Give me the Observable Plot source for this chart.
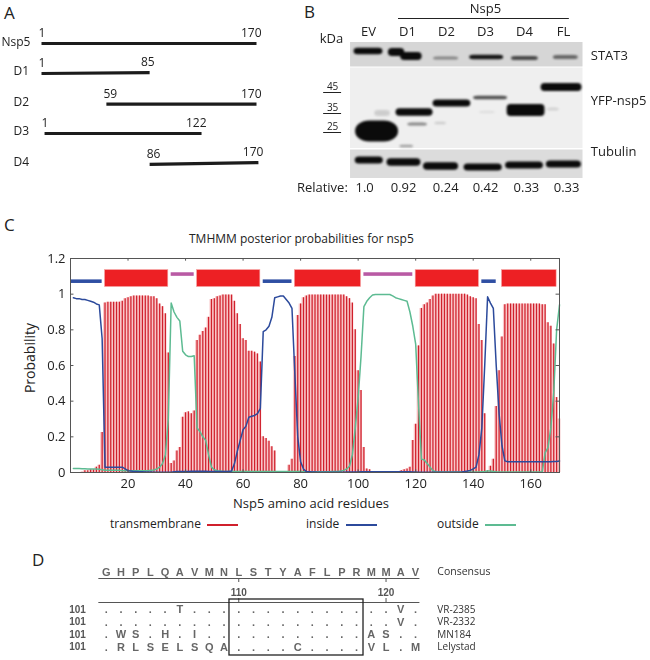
<!DOCTYPE html>
<html>
<head>
<meta charset="utf-8">
<script src="https://cdn.jsdelivr.net/npm/d3@7"></script>
<script src="https://cdn.jsdelivr.net/npm/@observablehq/plot@0.6"></script>
<style>
html,body{margin:0;padding:0;background:#fff}
#page{position:relative;width:650px;height:660px;overflow:hidden;font-family:"Open Sans",sans-serif;color:#222}
#page svg{position:absolute;overflow:visible;background:transparent;opacity:.999}
.lbl{position:absolute;font-size:12px;white-space:nowrap;line-height:14px}
.letter{position:absolute;font-size:17px;line-height:20px}
.sw{position:absolute;height:1.5px;width:31px}
</style>
</head>
<body>
<div id="page"></div>
<script>
const FONT = '"Open Sans", sans-serif';
const page = document.getElementById("page");

// ---------- Panel A ----------
const constructs = ["Nsp5","D1","D2","D3","D4"];
const startLabel = ["1","1","59","1","86"];
const endLabel   = ["170","85","170","122","170"];
const drawnStart = [1,1,52,3.4,86];
const drawnEnd   = [170,86,170,126.8,171.5];
const rowStart   = [0,1,2.02,3,4.03];
const rowEnd     = [0,0.97,2.02,3,3.97];

// ---------- Panel B ----------
const laneNames = ["EV","D1","D2","D3","D4","FL"];
const relative  = ["1.0","0.92","0.24","0.42","0.33","0.33"];
const relativeLane = [-0.1,0.9,1.98,3,4.05,5.08];
const markers   = ["45","35","25"];
const markerGelY = [92,113,132];
const stripTop  = [42,67.5,149.5];
const stripBottom = [66.5,148,178];
const stripShade = ["#d6d6d6","#efefef","#dcdcdc"];
// band: lane position, width (lanes), gel y, thickness, density
const bandLane = [0,0.72,1.1,1.99,3.03,4.01,5.06,  1.18,2.14,3.13,4.04,4.95,  0.02,0.91,1.86,2.94,4,5.01,  1.26,0.98,0.36,4.74,3.05,1.85];
const bandWide = [0.74,0.42,0.55,0.64,0.87,0.69,0.64,  0.95,0.97,0.87,0.97,1.05,  0.72,0.87,0.9,0.98,0.97,0.9,  0.5,0.35,0.4,0.3,0.4,0.3];
const bandY    = [51,52,56,58,57,58,57,  112,103,97.5,110,87,  160,162,166,167,165,164,  124,146,113,109,112,123];
const bandThick= [6.5,8,8,3,4.5,4,4,  7.5,7,3.5,12,8,  7,7.5,7.5,7,7,7,  3,2.5,6,3,2,2.5];
const bandDensity=[1,1,1,0.4,0.95,0.7,0.55,  1,1,0.7,1,1,  1,1,1,1,1,1,  0.45,0.35,0.15,0.12,0.08,0.15];
const blobLane = [0.22];
const blobWide = [1.1];
const blobY = [131];
const blobThick = [21];

// ---------- Panel C ----------
const transmembrane = [
0,0,0,.002,.01,.01,.015,.015,.03,.04,
.225,.95,.955,.955,.955,.955,.955,.96,.975,.98,
.985,.99,.99,.99,.99,.99,.99,.985,.985,.975,
.945,.93,.89,.67,.05,.065,.12,.14,.31,.335,
.34,.33,.345,.74,.77,.79,.81,.87,.97,.975,
.985,.99,.995,.995,.995,.995,.96,.89,.83,.75,
.74,.68,.68,.675,.665,.62,.2,.19,.175,.145,
.12,0,0,0,0,.04,.075,.65,.88,.945,
.98,.99,.995,.995,.995,.995,.995,.995,.995,.995,
.995,.995,.995,.995,.995,.985,.975,.95,.8,.57,
.46,.14,.02,.015,.005,.002,.002,.002,.002,.002,
.002,.002,.005,.005,.01,.015,.02,.03,.18,.27,
.71,.92,.94,.95,.97,.99,1,1,1,1,
1,1,1,1,1,1,1,.995,.985,.98,
.975,.83,.74,.33,.01,.035,.075,.37,.57,.76,
.94,.945,.945,.945,.945,.945,.945,.945,.945,.945,
.945,.945,.945,.94,.94,.84,.82,.72,.42,.3];
const inside = [
.98,.975,.975,.97,.97,.965,.96,.955,.945,.94,
.75,.03,.03,.03,.03,.03,.03,.03,.02,.01,
.008,.006,.005,.004,.004,.003,.003,.003,.002,.002,
.002,.001,.001,.001,.002,.004,.005,.005,.006,.006,
.006,.007,.007,.007,.007,.007,.007,.006,.006,.005,
.005,.005,.005,.005,.005,.008,.05,.12,.18,.24,
.26,.31,.315,.32,.33,.36,.79,.8,.82,.87,
.98,.985,.99,.99,.97,.95,.92,.55,.2,.06,
.02,.005,.004,.003,.003,.002,.002,.002,.002,.002,
.002,.002,.002,.002,.002,.003,.003,.003,.003,.003,
.004,.004,.004,.004,.004,.004,.004,.004,.004,.004,
.004,.004,.004,.004,.004,.004,.004,.004,.003,.003,
.001,.001,.001,.001,.001,.001,.001,.001,.001,.001,
.001,.001,.001,.001,.002,.003,.005,.008,.012,.02,
.03,.1,.25,.6,.985,.95,.92,.6,.33,.15,
.065,.06,.06,.06,.06,.06,.06,.06,.06,.06,
.06,.06,.06,.06,.06,.06,.06,.062,.062,.065];
const outside = [
.022,.022,.022,.021,.021,.02,.02,.02,.019,.018,
.015,.012,.012,.012,.012,.012,.012,.01,.01,.01,
.01,.01,.01,.01,.01,.01,.01,.012,.014,.02,
.03,.05,.1,.3,.95,.9,.87,.85,.68,.66,
.65,.65,.655,.25,.23,.2,.18,.1,.03,.015,
.01,.008,.006,.005,.005,.005,.005,.005,.005,.005,
.005,.005,.005,.005,.005,.005,.005,.005,.005,.005,
.005,.005,.005,.005,.005,.005,.005,.005,.005,.005,
.004,.004,.004,.004,.004,.004,.004,.004,.004,.004,
.005,.005,.005,.008,.012,.02,.035,.1,.25,.42,
.65,.93,.96,.98,.995,.998,.998,.998,.998,.998,
.998,.99,.98,.975,.97,.965,.96,.9,.82,.72,
.38,.075,.07,.05,.03,.01,.004,.003,.003,.003,
.003,.003,.003,.003,.003,.003,.003,.003,.003,.003,
.003,.003,.004,.005,.008,.008,.006,.004,.003,.003,
.003,.003,.003,.003,.003,.003,.003,.003,.003,.003,
.003,.003,.003,.003,.11,.14,.25,.45,.8,.94];
const residues = transmembrane.map((_, i) => i + 1);
const topoKind  = ["inside","tm","outside","tm","inside","tm","outside","tm","inside","tm"];
const topoStart = [0,12,35,44,67,78,102,120,143,150];
const topoEnd   = [11,34,43,66,77,101,119,142,148,169];
const probTicks = [0,0.2,0.4,0.6,0.8,1,1.2];
const residueTicks = [20,40,60,80,100,120,140,160];

// ---------- Panel D ----------
const consensus = "GHPLQAVMNLSTYAFLPRMMAV";
const strainNames = ["VR-2385","VR-2332","MN184","Lelystad"];
const strainStart = ["101","101","101","101"];
const strainSeqs = [
  ".....T..............V.",
  "....................V.",
  ".WS.H.I...........AS..",
  ".RLSELSQA....C....VL.M"
];
const rulerTicks = [110,120];

// ---------- helpers ----------
function place(svg, left, top) {
  svg.style.left = left + "px";
  svg.style.top = top + "px";
  page.appendChild(svg);
  return svg;
}
function label(cls, text, left, top, extra) {
  const d = document.createElement("div");
  d.className = cls;
  d.textContent = text;
  d.style.left = left + "px";
  d.style.top = top + "px";
  if (extra) Object.assign(d.style, extra);
  page.appendChild(d);
}
const baseStyle = {fontFamily: FONT, fontSize: "12px", background: "transparent", color: "#222"};

// Panel letters
label("letter","A",4,3);
label("letter","B",304,2);
label("letter","C",4,215);
label("letter","D",32,550);

// ---------- A ----------
const aRows = constructs.map((name,i)=>({name,sl:startLabel[i],el:endLabel[i],x1:drawnStart[i],x2:drawnEnd[i],y1:rowStart[i],y2:rowEnd[i]}));
place(Plot.plot({
  width: 290, height: 180, margin: 0, style: baseStyle,
  x: {domain:[1,170], range:[41,256], axis:null},
  y: {domain:[0,4], range:[43,163], axis:null},
  marks: [
    Plot.link(aRows,{x1:"x1",x2:"x2",y1:"y1",y2:"y2",stroke:"#1c1c1c",strokeWidth:3.2}),
    Plot.text(aRows,{x:"x1",y:"y1",text:"sl",textAnchor:"start",dx:-3,dy:-10,fill:"#222"}),
    Plot.text(aRows,{x:"x2",y:"y2",text:"el",textAnchor:"end",dx:5,dy:-10,fill:"#222"}),
    Plot.text(aRows.slice(0,1),{y:"y1",text:"name",frameAnchor:"left",dx:1,dy:-1,textAnchor:"start",fill:"#222"}),
    Plot.text(aRows.slice(1),{y:"y1",text:"name",frameAnchor:"left",dx:13,dy:-2,textAnchor:"start",fill:"#222"})
  ]
}),0,0);

// ---------- B ----------
const laneX = {domain:[0,5], range:[368,563], axis:null};
const gelY  = {domain:[0,190], range:[0,190], axis:null};
const strips = stripTop.map((t,i)=>({t,b:stripBottom[i],s:stripShade[i]}));
const lanes = laneNames.map((n,i)=>({n,i,rel:relative[i],rl:relativeLane[i]}));
const mk = markers.map((m,i)=>({m,y:markerGelY[i]}));
const bStyle = {...baseStyle, fontSize:"13px"};
place(Plot.plot({
  width:650,height:200,margin:0,style:bStyle,x:laneX,y:gelY,
  marks:[
    Plot.rect(strips,{x1:-0.46,x2:5.5,y1:"t",y2:"b",fill:"s"}),
    Plot.text(lanes,{x:"i",y:31,text:"n",fill:"#222"}),
    Plot.text(lanes,{x:"rl",y:187,text:"rel",fill:"#222"}),
    Plot.text(["kDa"],{x:-0.95,y:38,text:d=>d,fill:"#222"}),
    Plot.text(["Nsp5"],{x:3,y:8,text:d=>d,fill:"#222"}),
    Plot.ruleY([18],{x1:0.77,x2:5.15,stroke:"#222",strokeWidth:1}),
    Plot.text(["Relative:"],{x:-0.53,y:187,text:d=>d,textAnchor:"end",fill:"#222"}),
    Plot.text(["STAT3"],{x:5.7,y:55,text:d=>d,textAnchor:"start",fill:"#222"}),
    Plot.text(["YFP-nsp5"],{x:5.7,y:100,text:d=>d,textAnchor:"start",fill:"#222"}),
    Plot.text(["Tubulin"],{x:5.7,y:151,text:d=>d,textAnchor:"start",fill:"#222"}),
    Plot.text(mk,{x:-0.92,y:d=>d.y-5.5,text:"m",fontSize:10,fill:"#222"}),
    Plot.ruleY(mk,{y:"y",x1:-1.15,x2:-0.69,stroke:"#222",strokeWidth:1})
  ]
}),0,0);
const bands = bandLane.map((l,i)=>({x1:l-bandWide[i]/2,x2:l+bandWide[i]/2,y1:bandY[i]-bandThick[i]/2,y2:bandY[i]+bandThick[i]/2,d:bandDensity[i]}));
const blobs = blobLane.map((l,i)=>({x1:l-blobWide[i]/2,x2:l+blobWide[i]/2,y1:blobY[i]-blobThick[i]/2,y2:blobY[i]+blobThick[i]/2}));
const bandSvg = Plot.plot({
  width:650,height:200,margin:0,style:bStyle,x:laneX,y:gelY,
  marks:[
    Plot.rect(bands,{x1:"x1",x2:"x2",y1:"y1",y2:"y2",fill:"#0b0b0b",fillOpacity:"d",rx:4}),
    Plot.rect(blobs,{x1:"x1",x2:"x2",y1:"y1",y2:"y2",fill:"#0b0b0b",rx:14,ry:10})
  ]
});
bandSvg.style.filter = "blur(1.3px)";
place(bandSvg,0,0);

// ---------- C ----------
const cData = residues.map((r,i)=>({r,tm:transmembrane[i],ins:inside[i],out:outside[i]}));
const topo = topoKind.map((k,i)=>({k,a:topoStart[i],b:topoEnd[i]}));
place(Plot.plot({
  width:650,height:280,marginLeft:70,marginRight:91,marginTop:18,marginBottom:48,style:baseStyle,
  x:{domain:[0,170]},
  y:{domain:[0,1.2]},
  marks:[
    Plot.areaY(cData,{x:"r",y:"tm",fill:"#f9c6c8",curve:"step"}),
    Plot.ruleX(cData,{x:"r",y1:0,y2:"tm",stroke:"#d0202c",strokeWidth:1.25}),
    Plot.line(cData,{x:"r",y:"out",stroke:"#5dbb92",strokeWidth:1.5}),
    Plot.line(cData,{x:"r",y:"ins",stroke:"#2c4a9c",strokeWidth:1.5}),
    Plot.rect(topo.filter(d=>d.k==="tm"),{x1:"a",x2:"b",y1:1.04,y2:1.135,fill:"#ed2024",stroke:"#f6a6a6",strokeWidth:0.6}),
    Plot.rect(topo.filter(d=>d.k==="inside"),{x1:"a",x2:"b",y1:1.06,y2:1.08,fill:"#2f4fa3"}),
    Plot.rect(topo.filter(d=>d.k==="outside"),{x1:"a",x2:"b",y1:1.1,y2:1.12,fill:"#b95aa4"}),
    Plot.frame({stroke:"#555",strokeWidth:1}),
    Plot.ruleX(residueTicks,{y1:0,y2:0.015,stroke:"#555"}),
    Plot.ruleX(residueTicks,{y1:1.185,y2:1.2,stroke:"#555"}),
    Plot.ruleY(probTicks,{x1:168.8,x2:170,stroke:"#555"}),
    Plot.ruleY(probTicks,{x1:0,x2:1.2,stroke:"#555"}),
    Plot.axisX(residueTicks,{tickSize:0,tickPadding:6,fill:"#222",label:null,fontSize:13}),
    Plot.axisY(probTicks,{tickSize:0,tickPadding:5,tickFormat:d=>String(d),fill:"#222",label:null,fontSize:13})
  ]
}),0,240);
label("lbl","TMHMM posterior probabilities for nsp5",189,232);
label("lbl","Nsp5 amino acid residues",233,496,{fontSize:"13px"});
label("lbl","Probability",-5,351,{transform:"rotate(-90deg)",width:60,textAlign:"center",fontSize:"14px"});
label("lbl","transmembrane",110,517);
label("lbl","inside",306,517);
label("lbl","outside",437,517);
const swatches=[[207,"#d0202c"],[346,"#2c4a9c"],[485,"#5dbb92"]];
swatches.forEach(([x,c])=>{const s=document.createElement("div");s.className="sw";s.style.left=x+"px";s.style.top="524px";s.style.background=c;page.appendChild(s);});

// ---------- D ----------
const cols = Array.from(consensus,(c,i)=>({c,p:101+i}));
const seqCells = strainSeqs.flatMap((s,row)=>Array.from(s,(c,i)=>({c,p:101+i,row})));
const names = strainNames.map((n,row)=>({n,row,s:strainStart[row]}));
const dFont = {fontFamily:'"Liberation Sans",Arial,sans-serif',fontWeight:"bold"};
place(Plot.plot({
  width:650,height:120,margin:0,style:baseStyle,
  x:{domain:[101,122],range:[105.7,415],axis:null},
  y:{domain:[-3,4],range:[31.5,119],axis:null},
  marks:[
    Plot.ruleY([-2.48,-0.56],{x1:100.5,x2:122.3,stroke:"#555",strokeWidth:1}),
    Plot.ruleX(rulerTicks,{y1:-2.48,y2:-2.16,stroke:"#555"}),
    Plot.ruleX(rulerTicks,{y1:-0.56,y2:-0.88,stroke:"#555"}),
    Plot.text(cols,{x:"p",y:-3,text:"c",fill:"#666",fontSize:11,...dFont}),
    Plot.text(rulerTicks,{x:d=>d,y:-1.36,text:d=>String(d),fill:"#555",fontSize:10,...dFont}),
    Plot.text(seqCells,{x:"p",y:"row",text:"c",fill:"#666",fontSize:11,...dFont}),
    Plot.text(names,{x:99.05,y:"row",text:"s",fill:"#555",fontSize:10,...dFont}),
    Plot.text(names,{x:123.48,y:"row",text:"n",textAnchor:"start",fill:"#333",fontSize:10,fontFamily:FONT}),
    Plot.text(["Consensus"],{x:123.48,y:-3,text:d=>d,textAnchor:"start",fill:"#333",fontSize:10.5,fontFamily:FONT}),
    Plot.rect([{a:109.37,b:118.47,t:-0.8,u:3.68}],{x1:"a",x2:"b",y1:"t",y2:"u",fill:"none",stroke:"#222",strokeWidth:1.3})
  ]
}),0,540);
</script>
</body>
</html>
